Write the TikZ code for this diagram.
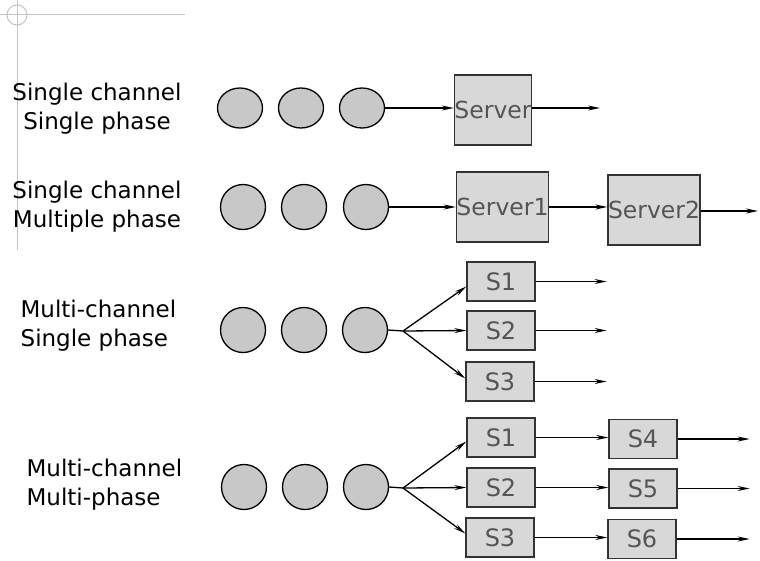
\documentclass[tikz,border=0pt]{standalone}
\usepackage{fontspec}
\setmainfont{DejaVu Sans}
\usepackage{tikz}
\usetikzlibrary{arrows.meta,shapes.geometric}
\definecolor{custfill}{HTML}{C8C8C8}
\definecolor{srvfill}{HTML}{D8D8D8}
\definecolor{srvtext}{HTML}{555555}
\definecolor{markgray}{HTML}{C4C4C4}
\tikzset{
  cust/.style={ellipse, draw, line width=1.3pt, fill=custfill,
    minimum width=45pt, minimum height=45pt, inner sep=0pt},
  srvbox/.style={rectangle, draw=black!80, line width=1.3pt, fill=srvfill,
    text=srvtext, inner sep=0pt, font=\fontsize{23.5}{23.5}\selectfont},
  sbox/.style={srvbox, minimum width=68pt, minimum height=39pt,
    font=\fontsize{24}{24}\selectfont},
  rowlab/.style={font=\fontsize{23}{29}\selectfont, inner sep=0pt}
}
\begin{document}
\begin{tikzpicture}[>={Stealth[length=12pt,width=5pt]}, x=1pt, y=-1pt, line width=1.3pt]
\useasboundingbox (0,0) rectangle (760,560);
% crop mark
\draw[markgray, line width=1pt] (0,14) -- (185,14);
\draw[markgray, line width=1pt] (17,0) -- (17,250);
\draw[markgray, line width=1pt] (17,15) circle[radius=10];

% row labels
\node[rowlab, align=center] (lab1) at (97,109) {Single channel\\Single phase};
\node[rowlab, align=center] (lab2) at (97,207) {Single channel\\Multiple phase};
\node[rowlab, align=left, anchor=west] (lab3) at (20,326) {Multi-channel\\Single phase};
\node[rowlab, align=left, anchor=west] (lab4) at (26,485) {Multi-channel\\Multi-phase};

% single channel, single phase
\node[cust, minimum height=40pt] (q1a) at (240,108) {};
\node[cust, minimum height=40pt] (q1b) at (301,108) {};
\node[cust, minimum height=40pt] (q1c) at (362,108) {};
\node[srvbox, minimum width=76pt, minimum height=70pt] (srv) at (493,110) {Server};
\coordinate (o1) at (600,108);
\draw[->] (q1c.east) -- (q1c.east -| srv.west);
\draw[->] (srv.east |- o1) -- (o1);

% single channel, multiple phase
\node[cust] (q2a) at (243,207) {};
\node[cust] (q2b) at (304,207) {};
\node[cust] (q2c) at (366,207) {};
\node[srvbox, minimum width=77pt, minimum height=70pt] (sv1) at (502.5,207) {Server1};
\node[srvbox, minimum width=76pt, minimum height=70pt] (sv2) at (654,210) {Server2};
\coordinate (o2) at (758,211);
\draw[->] (q2c.east) -- (q2c.east -| sv1.west);
\draw[->] (sv1.east) -- (sv1.east -| sv2.west);
\draw[->] (sv2.east |- o2) -- (o2);

% multi-channel, single phase
\node[cust] (q3a) at (243,330) {};
\node[cust] (q3b) at (304,330) {};
\node[cust] (q3c) at (365,330) {};
\coordinate (f3) at (403,331);
\node[sbox] (a1) at (501,281.5) {S1};
\node[sbox] (a2) at (501,330.5) {S2};
\node[sbox] (a3) at (500,381.5) {S3};
\draw (q3c.east) -- (f3);
\draw[->] (f3) -- ([yshift=-5pt]a1.west);
\draw[->] (f3) -- (a2.west);
\draw[->] (f3) -- ([yshift=3pt]a3.west);
\draw[->] (a1.east) -- ++(71,0);
\draw[->] (a2.east) -- ++(71,0);
\draw[->] (a3.east) -- ++(72,0);

% multi-channel, multi-phase
\node[cust] (q4a) at (244,487) {};
\node[cust] (q4b) at (305,487) {};
\node[cust] (q4c) at (366,487) {};
\coordinate (f4) at (403,488);
\node[sbox] (b1) at (501,437.5) {S1};
\node[sbox] (b2) at (501,487.5) {S2};
\node[sbox] (b3) at (500,537.5) {S3};
\node[sbox] (b4) at (643,439) {S4};
\node[sbox] (b5) at (643,488.5) {S5};
\node[sbox] (b6) at (642,539) {S6};
\draw (q4c.east) -- (f4);
\draw[->] (f4) -- ([yshift=-4pt]b1.west);
\draw[->] (f4) -- (b2.west);
\draw[->] (f4) -- ([yshift=4pt]b3.west);
\draw[->] (b1.east) -- (b1.east -| b4.west);
\draw[->] (b2.east) -- (b2.east -| b5.west);
\draw[->] (b3.east) -- (b3.east -| b6.west);
\draw[->] (b4.east) -- ++(72,0);
\draw[->] (b5.east) -- ++(72,0);
\draw[->] (b6.east) -- ++(73,0);
\end{tikzpicture}
\end{document}
